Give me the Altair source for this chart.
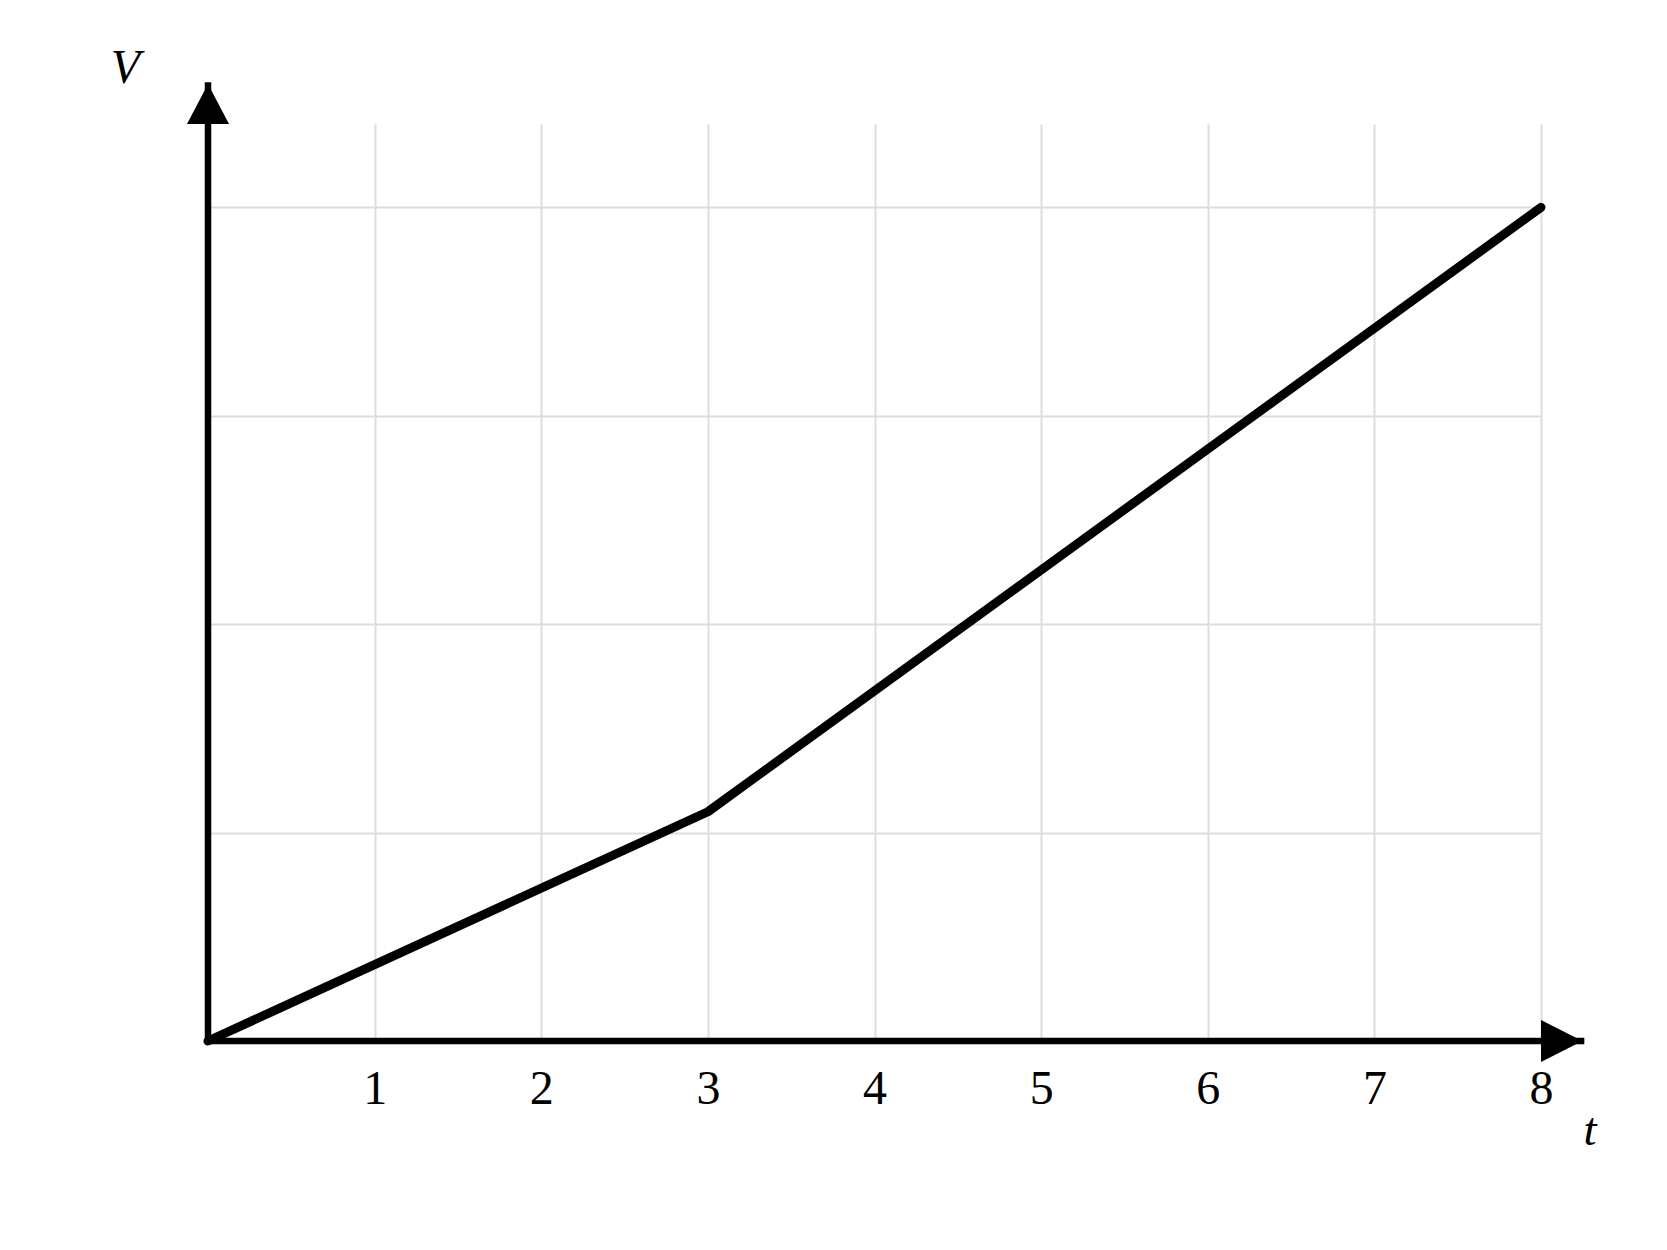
import altair as alt
import pandas as pd

# data
t_vals = [0, 3, 8]
v_vals = [0, 1.1, 4.0]
x_ticks = [1, 2, 3, 4, 5, 6, 7, 8]
y_grid = [1, 2, 3, 4]

line_df = pd.DataFrame({"t": t_vals, "V": v_vals})

X_MAX = 8
Y_MAX = 4.4

xscale = alt.Scale(domain=[0, X_MAX], nice=False, zero=False)
yscale = alt.Scale(domain=[0, Y_MAX], nice=False, zero=False)

xaxis = alt.Axis(values=x_ticks, title=None, domain=False, ticks=False,
                 grid=True, gridColor="#dddddd", gridWidth=2, format="d",
                 labelFont="Liberation Serif", labelFontSize=48,
                 labelColor="black", labelPadding=24, labelAngle=0,
                 labelFlush=False, labelOverlap=False, labelBound=False)
yaxis = alt.Axis(values=y_grid, title=None, domain=False, ticks=False,
                 labels=False, grid=True, gridColor="#dddddd", gridWidth=2)

line = alt.Chart(line_df).mark_line(
    color="black", strokeWidth=9, strokeCap="round", strokeJoin="round"
).encode(
    x=alt.X("t:Q", scale=xscale, axis=xaxis),
    y=alt.Y("V:Q", scale=yscale, axis=yaxis),
)

# axes lines
axes_df = pd.DataFrame({"x": [0, 0], "x2": [0, 8.26], "y": [0, 0], "y2": [4.6, 0]})
axes = alt.Chart(axes_df).mark_rule(color="black", strokeWidth=6.5).encode(
    x=alt.X("x:Q", scale=xscale),
    x2="x2:Q",
    y=alt.Y("y:Q", scale=yscale),
    y2="y2:Q",
)

# arrow heads
up_df = pd.DataFrame({"x": [0], "y": [Y_MAX]})
up = alt.Chart(up_df).mark_point(
    shape="M-1,0L0,-1.9L1,0Z", size=1764, filled=True, opacity=1,
    color="black", strokeWidth=0
).encode(x=alt.X("x:Q", scale=xscale), y=alt.Y("y:Q", scale=yscale))

right_df = pd.DataFrame({"x": [X_MAX], "y": [0]})
right = alt.Chart(right_df).mark_point(
    shape="M0,-1L1.97,0L0,1Z", size=1764, filled=True, opacity=1,
    color="black", strokeWidth=0
).encode(x=alt.X("x:Q", scale=xscale), y=alt.Y("y:Q", scale=yscale))

# axis titles
vlab = alt.Chart(pd.DataFrame({"s": ["V"]})).mark_text(
    font="Liberation Serif", fontSize=48, fontStyle="italic",
    align="center", baseline="alphabetic", color="black"
).encode(text="s:N", x=alt.value(-82.5), y=alt.value(-41))

tlab = alt.Chart(pd.DataFrame({"s": ["t"]})).mark_text(
    font="Liberation Serif", fontSize=47, fontStyle="italic",
    align="center", baseline="alphabetic", color="black"
).encode(text="s:N", x=alt.value(1382), y=alt.value(1021))

chart = alt.layer(axes, up, right, line, vlab, tlab).properties(
    width=1333, height=917,
    autosize=alt.AutoSizeParams(type="none"),
    padding={"left": 200, "top": 116, "right": 80, "bottom": 120},
    background="white",
).configure_view(stroke=None)

chart.save("out.html", embed_options={"renderer": "svg", "actions": False})
